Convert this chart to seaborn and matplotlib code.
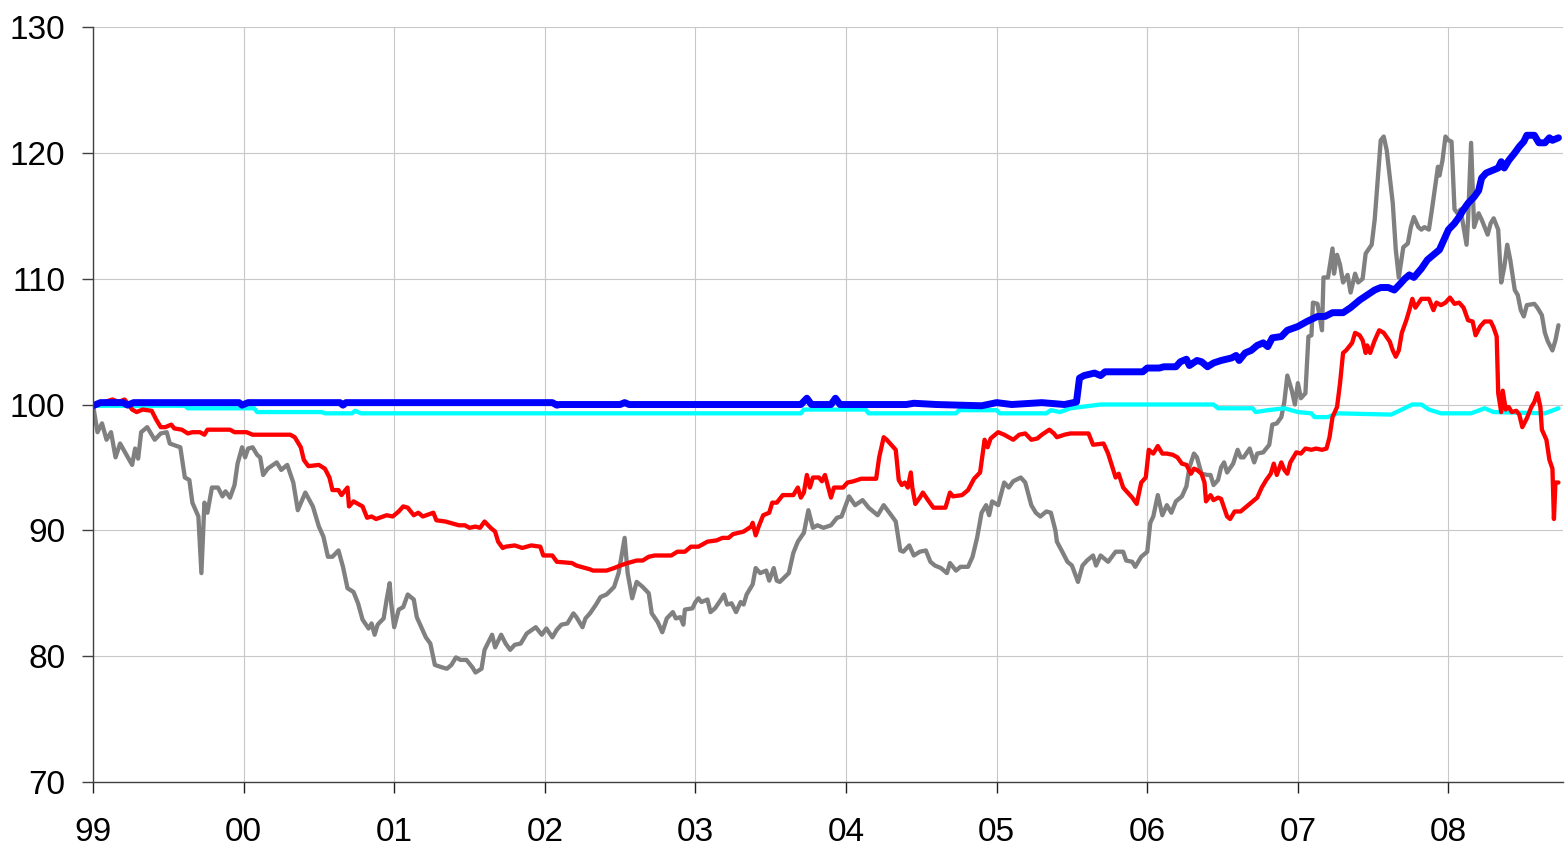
import pandas as pd
import numpy as np
import matplotlib
matplotlib.use("Agg")
import matplotlib.pyplot as plt
import seaborn as sns

# values (decimal year, index level)
grey_year = [1999.00, 1999.03, 1999.06, 1999.09, 1999.12, 1999.15, 1999.18, 1999.26, 1999.28, 1999.30,
             1999.32, 1999.36, 1999.41, 1999.45, 1999.49, 1999.51, 1999.58, 1999.61, 1999.64, 1999.66,
             1999.70, 1999.72, 1999.74, 1999.76, 1999.79, 1999.83, 1999.86, 1999.88, 1999.91, 1999.94,
             1999.96, 1999.99, 2000.01, 2000.03, 2000.06, 2000.09, 2000.11, 2000.13, 2000.16, 2000.22,
             2000.25, 2000.29, 2000.33, 2000.36, 2000.41, 2000.46, 2000.50, 2000.53, 2000.56, 2000.59,
             2000.63, 2000.66, 2000.69, 2000.73, 2000.76, 2000.79, 2000.83, 2000.85, 2000.87, 2000.89,
             2000.93, 2000.95, 2000.97, 2000.98, 2001.00, 2001.03, 2001.06, 2001.09, 2001.13, 2001.15,
             2001.18, 2001.21, 2001.24, 2001.27, 2001.32, 2001.35, 2001.38, 2001.41, 2001.44, 2001.48,
             2001.52, 2001.54, 2001.58, 2001.60, 2001.65, 2001.67, 2001.71, 2001.74, 2001.77, 2001.80,
             2001.84, 2001.88, 2001.94, 2001.98, 2002.01, 2002.05, 2002.08, 2002.11, 2002.15, 2002.19,
             2002.21, 2002.25, 2002.27, 2002.30, 2002.34, 2002.37, 2002.41, 2002.46, 2002.49, 2002.53,
             2002.55, 2002.58, 2002.61, 2002.65, 2002.69, 2002.71, 2002.75, 2002.78, 2002.81, 2002.85,
             2002.87, 2002.90, 2002.92, 2002.93, 2002.98, 2003.00, 2003.02, 2003.04, 2003.08, 2003.10,
             2003.13, 2003.17, 2003.19, 2003.21, 2003.24, 2003.27, 2003.30, 2003.32, 2003.34, 2003.38,
             2003.40, 2003.43, 2003.47, 2003.49, 2003.52, 2003.54, 2003.56, 2003.62, 2003.65, 2003.68,
             2003.72, 2003.75, 2003.78, 2003.81, 2003.85, 2003.90, 2003.94, 2003.97, 2004.02, 2004.06,
             2004.11, 2004.15, 2004.21, 2004.25, 2004.30, 2004.33, 2004.36, 2004.38, 2004.42, 2004.45,
             2004.49, 2004.53, 2004.56, 2004.59, 2004.63, 2004.67, 2004.69, 2004.73, 2004.76, 2004.81,
             2004.84, 2004.87, 2004.90, 2004.93, 2004.95, 2004.97, 2005.01, 2005.05, 2005.08, 2005.11,
             2005.16, 2005.19, 2005.23, 2005.26, 2005.29, 2005.33, 2005.36, 2005.39, 2005.40, 2005.44,
             2005.47, 2005.50, 2005.54, 2005.57, 2005.60, 2005.64, 2005.66, 2005.69, 2005.74, 2005.79,
             2005.84, 2005.86, 2005.90, 2005.92, 2005.96, 2006.00, 2006.02, 2006.04, 2006.07, 2006.10,
             2006.13, 2006.16, 2006.19, 2006.23, 2006.26, 2006.28, 2006.31, 2006.33, 2006.36, 2006.40,
             2006.42, 2006.44, 2006.47, 2006.49, 2006.51, 2006.53, 2006.57, 2006.60, 2006.62, 2006.64,
             2006.68, 2006.71, 2006.73, 2006.77, 2006.81, 2006.83, 2006.86, 2006.89, 2006.91, 2006.93,
             2006.96, 2006.98, 2007.00, 2007.02, 2007.05, 2007.07, 2007.09, 2007.10, 2007.13, 2007.16,
             2007.17, 2007.20, 2007.23, 2007.24, 2007.26, 2007.28, 2007.30, 2007.33, 2007.35, 2007.38,
             2007.40, 2007.43, 2007.45, 2007.49, 2007.51, 2007.53, 2007.55, 2007.57, 2007.59, 2007.61,
             2007.63, 2007.65, 2007.67, 2007.68, 2007.70, 2007.73, 2007.75, 2007.77, 2007.80, 2007.82,
             2007.84, 2007.87, 2007.89, 2007.93, 2007.94, 2007.96, 2007.98, 2008.00, 2008.02, 2008.04,
             2008.06, 2008.08, 2008.12, 2008.13, 2008.15, 2008.17, 2008.20, 2008.22, 2008.24, 2008.26,
             2008.28, 2008.30, 2008.33, 2008.35, 2008.37, 2008.39, 2008.41, 2008.44, 2008.46, 2008.48,
             2008.50, 2008.52, 2008.57, 2008.59, 2008.62, 2008.64, 2008.66, 2008.69, 2008.71, 2008.73]
grey_val = [100.0, 97.8, 98.5, 97.2, 97.8, 95.8, 96.9, 95.2, 96.5, 95.7,
            97.8, 98.2, 97.2, 97.7, 97.8, 96.9, 96.6, 94.2, 94.0, 92.2,
            91.1, 86.6, 92.2, 91.4, 93.4, 93.4, 92.7, 93.1, 92.6, 93.6,
            95.3, 96.6, 95.8, 96.5, 96.6, 96.0, 95.8, 94.4, 94.9, 95.4,
            94.8, 95.2, 93.8, 91.6, 93.0, 91.9, 90.3, 89.5, 87.9, 87.9,
            88.4, 87.1, 85.4, 85.1, 84.2, 82.9, 82.2, 82.6, 81.7, 82.5,
            83.0, 84.5, 85.8, 84.2, 82.3, 83.7, 83.9, 84.9, 84.5, 83.1,
            82.3, 81.5, 81.0, 79.3, 79.1, 79.0, 79.3, 79.9, 79.7, 79.7,
            79.1, 78.7, 79.0, 80.5, 81.7, 80.7, 81.7, 81.0, 80.5, 80.9,
            81.0, 81.8, 82.3, 81.7, 82.2, 81.5, 82.1, 82.5, 82.6, 83.4,
            83.1, 82.3, 83.0, 83.4, 84.1, 84.7, 84.9, 85.5, 86.6, 89.4,
            86.6, 84.6, 85.9, 85.5, 85.0, 83.4, 82.7, 81.9, 83.0, 83.5,
            83.0, 83.1, 82.5, 83.7, 83.8, 84.3, 84.6, 84.3, 84.5, 83.5,
            83.8, 84.5, 84.9, 84.1, 84.2, 83.5, 84.3, 84.1, 84.9, 85.7,
            87.0, 86.6, 86.8, 86.0, 87.0, 86.0, 85.9, 86.6, 88.2, 89.1,
            89.8, 91.6, 90.2, 90.4, 90.2, 90.4, 91.0, 91.1, 92.7, 92.0,
            92.4, 91.8, 91.2, 92.0, 91.2, 90.7, 88.4, 88.3, 88.8, 88.0,
            88.3, 88.4, 87.5, 87.2, 87.0, 86.6, 87.4, 86.8, 87.1, 87.1,
            87.9, 89.4, 91.4, 92.0, 91.2, 92.3, 92.0, 93.8, 93.4, 93.9,
            94.2, 93.8, 92.0, 91.4, 91.1, 91.5, 91.4, 90.0, 89.1, 88.2,
            87.5, 87.2, 85.9, 87.2, 87.6, 88.0, 87.2, 88.0, 87.5, 88.3,
            88.3, 87.6, 87.5, 87.1, 87.9, 88.3, 90.6, 91.1, 92.8, 91.2,
            92.0, 91.4, 92.3, 92.7, 93.5, 95.0, 96.1, 95.8, 94.5, 94.4,
            94.4, 93.6, 94.0, 95.0, 95.4, 94.6, 95.3, 96.4, 95.8, 95.8,
            96.5, 95.4, 96.1, 96.2, 96.8, 98.4, 98.5, 99.0, 100.2, 102.3,
            101.1, 100.0, 101.7, 100.5, 100.9, 105.4, 105.5, 108.1, 108.0, 105.9,
            110.1, 110.1, 112.4, 110.4, 111.9, 111.1, 109.7, 110.3, 108.9, 110.4,
            109.7, 110.0, 112.0, 112.7, 114.7, 117.8, 121.0, 121.3, 120.2, 118.1,
            116.0, 112.3, 110.1, 110.9, 112.5, 112.8, 114.1, 114.9, 114.1, 113.9,
            114.1, 113.9, 115.5, 118.9, 118.2, 119.4, 121.3, 121.0, 120.9, 115.5,
            115.2, 115.5, 112.7, 114.7, 120.8, 114.1, 115.2, 114.7, 114.1, 113.5,
            114.4, 114.8, 113.9, 109.7, 110.9, 112.7, 111.5, 109.1, 108.7, 107.5,
            107.0, 107.9, 108.0, 107.7, 107.1, 105.7, 105.0, 104.3, 105.1, 106.3]

red_year = [1999.00, 1999.05, 1999.13, 1999.17, 1999.21, 1999.23, 1999.26, 1999.29, 1999.33, 1999.39,
            1999.42, 1999.45, 1999.48, 1999.52, 1999.54, 1999.59, 1999.63, 1999.66, 1999.71, 1999.74,
            1999.76, 1999.91, 1999.94, 2000.02, 2000.06, 2000.31, 2000.34, 2000.38, 2000.40, 2000.43,
            2000.50, 2000.54, 2000.57, 2000.59, 2000.63, 2000.65, 2000.69, 2000.70, 2000.73, 2000.79,
            2000.82, 2000.85, 2000.88, 2000.95, 2000.99, 2001.03, 2001.06, 2001.09, 2001.13, 2001.16,
            2001.19, 2001.26, 2001.28, 2001.34, 2001.37, 2001.43, 2001.47, 2001.50, 2001.54, 2001.57,
            2001.60, 2001.64, 2001.67, 2001.69, 2001.72, 2001.74, 2001.80, 2001.85, 2001.91, 2001.97,
            2001.99, 2002.05, 2002.08, 2002.18, 2002.21, 2002.27, 2002.30, 2002.32, 2002.41, 2002.46,
            2002.50, 2002.55, 2002.61, 2002.65, 2002.69, 2002.73, 2002.84, 2002.88, 2002.93, 2002.97,
            2003.02, 2003.08, 2003.14, 2003.18, 2003.22, 2003.25, 2003.32, 2003.37, 2003.38, 2003.40,
            2003.42, 2003.45, 2003.49, 2003.51, 2003.54, 2003.58, 2003.65, 2003.68, 2003.70, 2003.72,
            2003.74, 2003.76, 2003.78, 2003.82, 2003.84, 2003.86, 2003.90, 2003.92, 2003.98, 2004.01,
            2004.05, 2004.10, 2004.20, 2004.22, 2004.25, 2004.27, 2004.33, 2004.35, 2004.37, 2004.39,
            2004.41, 2004.43, 2004.44, 2004.46, 2004.49, 2004.51, 2004.55, 2004.58, 2004.66, 2004.69,
            2004.71, 2004.77, 2004.81, 2004.85, 2004.89, 2004.92, 2004.94, 2004.96, 2005.01, 2005.05,
            2005.11, 2005.15, 2005.19, 2005.23, 2005.27, 2005.30, 2005.35, 2005.38, 2005.40, 2005.45,
            2005.49, 2005.61, 2005.64, 2005.71, 2005.74, 2005.79, 2005.81, 2005.84, 2005.87, 2005.90,
            2005.93, 2005.96, 2005.99, 2006.01, 2006.04, 2006.07, 2006.10, 2006.13, 2006.17, 2006.20,
            2006.23, 2006.26, 2006.29, 2006.31, 2006.33, 2006.36, 2006.38, 2006.39, 2006.42, 2006.44,
            2006.47, 2006.49, 2006.51, 2006.53, 2006.55, 2006.58, 2006.62, 2006.65, 2006.69, 2006.73,
            2006.76, 2006.79, 2006.82, 2006.84, 2006.86, 2006.89, 2006.91, 2006.93, 2006.95, 2006.99,
            2007.02, 2007.05, 2007.09, 2007.12, 2007.16, 2007.19, 2007.21, 2007.23, 2007.26, 2007.28,
            2007.30, 2007.32, 2007.34, 2007.36, 2007.38, 2007.41, 2007.43, 2007.45, 2007.46, 2007.48,
            2007.51, 2007.54, 2007.57, 2007.61, 2007.63, 2007.65, 2007.67, 2007.69, 2007.72, 2007.74,
            2007.76, 2007.78, 2007.82, 2007.87, 2007.90, 2007.92, 2007.95, 2007.98, 2008.01, 2008.04,
            2008.07, 2008.10, 2008.13, 2008.16, 2008.18, 2008.21, 2008.24, 2008.28, 2008.30, 2008.32,
            2008.33, 2008.35, 2008.36, 2008.38, 2008.40, 2008.42, 2008.45, 2008.47, 2008.49, 2008.52,
            2008.55, 2008.57, 2008.59, 2008.61, 2008.62, 2008.65, 2008.67, 2008.69, 2008.70, 2008.71,
            2008.73]
red_val = [100.0, 100.1, 100.4, 100.2, 100.4, 100.1, 99.6, 99.4, 99.6, 99.5,
           98.8, 98.2, 98.2, 98.4, 98.1, 98.0, 97.7, 97.8, 97.8, 97.6,
           98.0, 98.0, 97.8, 97.8, 97.6, 97.6, 97.4, 96.6, 95.6, 95.1,
           95.2, 94.9, 94.2, 93.2, 93.2, 92.8, 93.4, 91.9, 92.3, 91.9,
           91.0, 91.1, 90.9, 91.2, 91.1, 91.5, 91.9, 91.8, 91.2, 91.4,
           91.1, 91.4, 90.8, 90.7, 90.6, 90.4, 90.4, 90.2, 90.3, 90.2,
           90.7, 90.2, 89.9, 89.1, 88.6, 88.7, 88.8, 88.6, 88.8, 88.7,
           88.0, 88.0, 87.5, 87.4, 87.2, 87.0, 86.9, 86.8, 86.8, 87.0,
           87.2, 87.4, 87.6, 87.6, 87.9, 88.0, 88.0, 88.3, 88.3, 88.7,
           88.7, 89.1, 89.2, 89.4, 89.4, 89.7, 89.9, 90.3, 90.6, 89.6,
           90.3, 91.2, 91.4, 92.2, 92.2, 92.8, 92.8, 93.4, 92.6, 93.0,
           94.4, 93.4, 94.2, 94.2, 93.9, 94.4, 92.6, 93.4, 93.4, 93.8,
           93.9, 94.1, 94.1, 95.8, 97.4, 97.2, 96.4, 94.0, 93.6, 93.8,
           93.4, 94.6, 93.4, 92.1, 92.6, 93.0, 92.3, 91.8, 91.8, 93.0,
           92.7, 92.8, 93.2, 94.1, 94.6, 97.2, 96.6, 97.3, 97.8, 97.6,
           97.2, 97.6, 97.7, 97.2, 97.3, 97.6, 98.0, 97.7, 97.4, 97.6,
           97.7, 97.7, 96.8, 96.9, 96.1, 94.2, 94.5, 93.4, 93.0, 92.6,
           92.1, 93.8, 94.2, 96.4, 96.1, 96.7, 96.1, 96.1, 96.0, 95.8,
           95.3, 95.2, 94.5, 94.9, 94.8, 94.5, 93.8, 92.3, 92.8, 92.4,
           92.6, 92.5, 91.8, 91.1, 90.9, 91.5, 91.5, 91.8, 92.2, 92.6,
           93.4, 94.0, 94.5, 95.3, 94.4, 95.4, 94.8, 94.5, 95.4, 96.2,
           96.1, 96.5, 96.4, 96.5, 96.4, 96.5, 97.4, 99.0, 99.8, 101.7,
           104.1, 104.3, 104.6, 104.9, 105.7, 105.5, 105.1, 104.1, 104.7, 104.1,
           105.1, 105.9, 105.7, 105.0, 104.3, 103.8, 104.3, 105.7, 106.7, 107.5,
           108.4, 107.7, 108.4, 108.4, 107.5, 108.1, 107.9, 108.1, 108.5, 108.0,
           108.1, 107.7, 106.7, 106.6, 105.5, 106.2, 106.6, 106.6, 106.1, 105.4,
           100.9, 99.4, 101.1, 99.6, 99.8, 99.4, 99.5, 99.2, 98.2, 98.9,
           99.8, 100.2, 100.9, 99.8, 98.0, 97.2, 95.6, 94.9, 90.9, 93.8,
           93.8]

blue_year = [1999.00, 1999.05, 1999.20, 1999.23, 1999.27, 1999.97, 1999.99, 2000.03, 2000.64, 2000.66,
             2000.68, 2002.05, 2002.08, 2002.10, 2002.50, 2002.53, 2002.56, 2003.70, 2003.74, 2003.77,
             2003.90, 2003.93, 2003.96, 2004.40, 2004.45, 2004.60, 2004.90, 2005.00, 2005.10, 2005.30,
             2005.45, 2005.53, 2005.55, 2005.58, 2005.65, 2005.69, 2005.72, 2005.97, 2006.00, 2006.08,
             2006.11, 2006.19, 2006.22, 2006.26, 2006.28, 2006.33, 2006.36, 2006.40, 2006.44, 2006.49,
             2006.56, 2006.59, 2006.61, 2006.65, 2006.69, 2006.73, 2006.77, 2006.80, 2006.83, 2006.89,
             2006.93, 2007.00, 2007.06, 2007.13, 2007.18, 2007.23, 2007.30, 2007.35, 2007.41, 2007.46,
             2007.51, 2007.55, 2007.60, 2007.64, 2007.68, 2007.71, 2007.74, 2007.77, 2007.82, 2007.86,
             2007.91, 2007.94, 2007.97, 2008.00, 2008.04, 2008.07, 2008.10, 2008.13, 2008.17, 2008.20,
             2008.22, 2008.25, 2008.29, 2008.33, 2008.35, 2008.37, 2008.40, 2008.44, 2008.47, 2008.50,
             2008.52, 2008.57, 2008.60, 2008.64, 2008.67, 2008.69, 2008.73]
blue_val = [99.9, 100.15, 100.15, 99.95, 100.15, 100.15, 99.95, 100.15, 100.15, 99.95,
            100.15, 100.15, 99.95, 100.0, 100.0, 100.15, 100.0, 100.0, 100.5, 100.0,
            100.0, 100.5, 100.0, 100.0, 100.1, 100.0, 99.9, 100.15, 100.0, 100.15,
            100.0, 100.2, 102.1, 102.3, 102.5, 102.3, 102.6, 102.6, 102.9, 102.9,
            103.0, 103.0, 103.4, 103.6, 103.1, 103.5, 103.4, 103.0, 103.3, 103.5,
            103.7, 103.9, 103.5, 104.1, 104.3, 104.7, 104.9, 104.6, 105.3, 105.4,
            105.9, 106.2, 106.6, 107.0, 107.0, 107.3, 107.3, 107.7, 108.3, 108.7,
            109.1, 109.3, 109.3, 109.1, 109.6, 110.0, 110.3, 110.1, 110.8, 111.5,
            112.0, 112.3, 113.1, 113.9, 114.4, 114.9, 115.5, 116.0, 116.5, 117.0,
            118.0, 118.4, 118.6, 118.8, 119.3, 118.8, 119.4, 120.0, 120.5, 120.9,
            121.4, 121.4, 120.8, 120.8, 121.2, 121.0, 121.2]

cyan_year = [1999.00, 1999.61, 1999.63, 2000.07, 2000.09, 2000.52, 2000.54, 2000.72, 2000.74, 2000.78,
             2003.70, 2003.72, 2004.13, 2004.15, 2004.73, 2004.75, 2005.00, 2005.02, 2005.33, 2005.36,
             2005.42, 2005.49, 2005.69, 2006.44, 2006.47, 2006.70, 2006.72, 2006.80, 2006.91, 2007.00,
             2007.09, 2007.11, 2007.20, 2007.26, 2007.62, 2007.69, 2007.76, 2007.82, 2007.87, 2007.95,
             2008.15, 2008.24, 2008.30, 2008.64, 2008.73]
cyan_val = [99.9, 99.9, 99.7, 99.7, 99.4, 99.4, 99.3, 99.3, 99.5, 99.3,
            99.3, 99.6, 99.6, 99.3, 99.3, 99.55, 99.55, 99.3, 99.3, 99.55,
            99.4, 99.7, 100.0, 100.0, 99.7, 99.7, 99.4, 99.55, 99.7, 99.4,
            99.3, 99.0, 99.0, 99.3, 99.2, 99.6, 100.0, 100.0, 99.6, 99.3,
            99.3, 99.7, 99.4, 99.3, 99.7]

year_ticks = [1999, 2000, 2001, 2002, 2003, 2004, 2005, 2006, 2007, 2008]
year_labels = ["99", "00", "01", "02", "03", "04", "05", "06", "07", "08"]
y_ticks = [70, 80, 90, 100, 110, 120, 130]

sns.set_theme(style="whitegrid")
plt.rcParams['font.family'] = ['Liberation Sans', 'DejaVu Sans']

fig = plt.figure(figsize=(15.65, 8.46), dpi=100)
ax = fig.add_axes([0.0594, 0.0757, 0.9393, 0.8923])

series = [
    (grey_year, grey_val, "#808080", 3.1),
    (cyan_year, cyan_val, "#00FFFF", 3.1),
    (red_year, red_val, "#FF0000", 3.1),
    (blue_year, blue_val, "#0000FF", 5.0),
]
for yrs, vals, col, lw in series:
    df = pd.DataFrame({"year": yrs, "value": vals})
    sns.lineplot(data=df, x="year", y="value", color=col, linewidth=lw,
                 estimator=None, sort=True, ax=ax,
                 solid_capstyle="round", solid_joinstyle="round")

ax.set_xlim(1999, 2008.76)
ax.set_ylim(70, 130)
ax.set_xticks(year_ticks)
ax.set_xticklabels(year_labels)
ax.set_yticks(y_ticks)
ax.set_xlabel("")
ax.set_ylabel("")

ax.grid(True, color="#c8c8c8", linewidth=0.8)
for side in ["top", "right"]:
    ax.spines[side].set_visible(False)
for side in ["left", "bottom"]:
    ax.spines[side].set_visible(True)
    ax.spines[side].set_color("#404040")
    ax.spines[side].set_linewidth(1.0)

ax.tick_params(axis="x", which="major", direction="out", length=8, width=1,
               color="#202020", labelsize=24, pad=17, bottom=True)
ax.tick_params(axis="y", which="major", direction="out", length=8, width=1,
               color="#404040", labelsize=24, pad=12, left=True)
for lab in ax.get_xticklabels() + ax.get_yticklabels():
    lab.set_color("black")

fig.savefig("out.png", dpi=100, facecolor="white")
